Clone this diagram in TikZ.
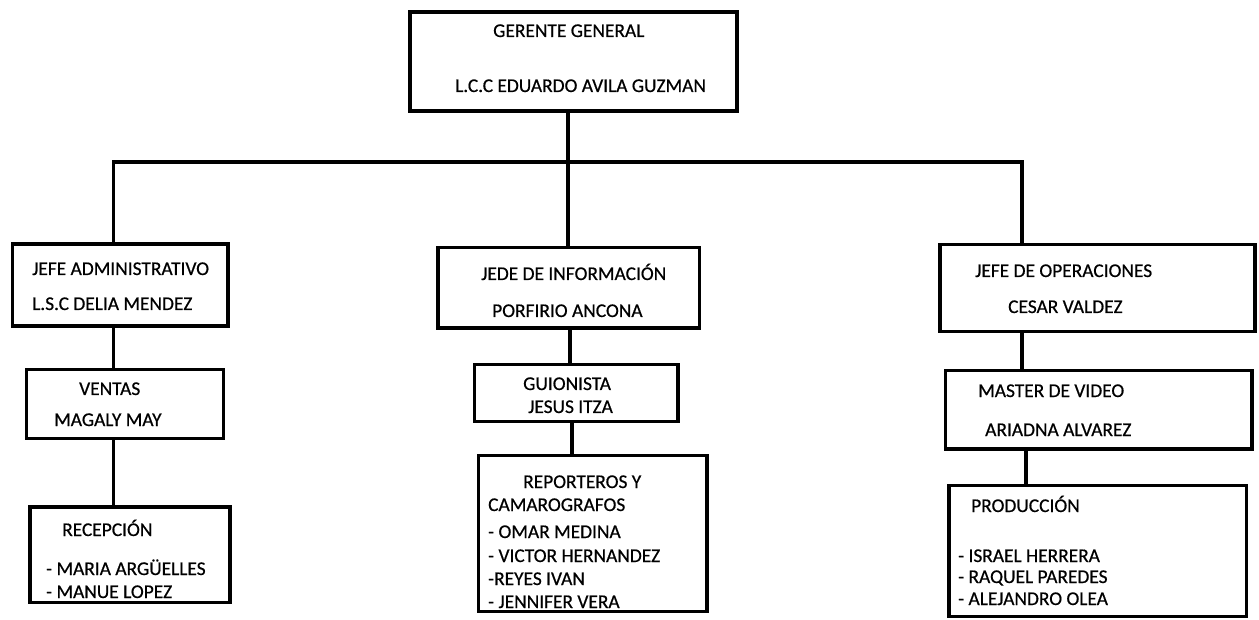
\documentclass[tikz,border=0pt]{standalone}
\usepackage{fontspec}
\setmainfont{Carlito}
\newfontfamily\lblfont{Carlito}[FakeBold=0.6]
\begin{document}
\begin{tikzpicture}[x=1pt,y=-1pt,
  box/.style={draw=black, line width=3.6pt, inner sep=0pt, rectangle},
  conn/.style={draw=black, line width=3.6pt},
  lbl/.style={anchor=base west, inner sep=0pt, font=\lblfont\fontsize{19.4}{22}\selectfont, text=black}]
\useasboundingbox (0,0) rectangle (1259,620);

% ---------- texts ----------
\node[lbl] (t1) at (493,37) {GERENTE GENERAL};
\node[lbl] (t2) at (455,92) {L.C.C EDUARDO AVILA GUZMAN};

\node[lbl] (t3) at (32,275) {JEFE ADMINISTRATIVO};
\node[lbl] (t4) at (32,310) {L.S.C DELIA MENDEZ};
\node[lbl] (t5) at (79,395) {VENTAS};
\node[lbl] (t6) at (54,426) {MAGALY MAY};
\node[lbl] (t7) at (62,536) {RECEPCIÓN};
\node[lbl] (t8) at (46,575) {- MARIA ARGÜELLES};
\node[lbl] (t9) at (46,598) {- MANUE LOPEZ};

\node[lbl] (t10) at (481,280) {JEDE DE INFORMACIÓN};
\node[lbl] (t11) at (492,317) {PORFIRIO ANCONA};
\node[lbl] (t12) at (523,390) {GUIONISTA};
\node[lbl] (t13) at (528,413) {JESUS ITZA};
\node[lbl] (t14) at (523,488) {REPORTEROS Y};
\node[lbl] (t15) at (488,511) {CAMAROGRAFOS};
\node[lbl] (t16) at (488,538) {- OMAR MEDINA};
\node[lbl] (t17) at (488,562) {- VICTOR HERNANDEZ};
\node[lbl] (t18) at (488,585) {-REYES IVAN};
\node[lbl] (t19) at (488,608) {- JENNIFER VERA};

\node[lbl] (t20) at (975,277) {JEFE DE OPERACIONES};
\node[lbl] (t21) at (1008,313) {CESAR VALDEZ};
\node[lbl] (t22) at (978,397) {MASTER DE VIDEO};
\node[lbl] (t23) at (985,436) {ARIADNA ALVAREZ};
\node[lbl] (t24) at (971,512) {PRODUCCIÓN};
\node[lbl] (t25) at (958,562) {- ISRAEL HERRERA};
\node[lbl] (t26) at (958,583) {- RAQUEL PAREDES};
\node[lbl] (t27) at (958,605) {- ALEJANDRO OLEA};

% ---------- boxes ----------
\node[box, minimum width=327pt, minimum height=99pt] (gg) at (573.5,61.5) {};

\node[box, minimum width=215.5pt, minimum height=82pt] (ja) at (120.25,285) {};
\node[box, minimum width=197pt, minimum height=69pt] (ve) at (125,404) {};
\node[box, minimum width=200pt, minimum height=95.5pt] (re) at (130.25,554.75) {};

\node[box, minimum width=261.5pt, minimum height=80.5pt] (ji) at (568.75,287.75) {};
\node[box, minimum width=203.5pt, minimum height=57pt] (gu) at (576.25,393) {};
\node[box, minimum width=228.5pt, minimum height=156pt] (rp) at (592.75,533.5) {};

\node[box, minimum width=315pt, minimum height=87pt] (jo) at (1097.5,288) {};
\node[box, minimum width=306.5pt, minimum height=78.5pt] (mv) at (1098.75,409.75) {};
\node[box, minimum width=297.5pt, minimum height=131pt] (pr) at (1097.75,551) {};

% ---------- connectors ----------
\coordinate (bl) at (113.3,162);
\coordinate (bm) at (567.7,162);
\coordinate (br) at (1022,162);
\coordinate (xl) at (113.3,0);
\coordinate (xm1) at (570,0);
\coordinate (xm2) at (571.7,0);
\coordinate (xr1) at (1021.7,0);
\coordinate (xr2) at (1026,0);

\draw[conn, line join=miter] (ja.north -| bl) -- (bl) -- (br) -- (jo.north -| br);
\draw[conn] (gg.south -| bm) -- (ji.north -| bm);

\draw[conn] (ja.south -| xl) -- (ve.north -| xl);
\draw[conn] (ve.south -| xl) -- (re.north -| xl);

\draw[conn] (ji.south -| xm1) -- (gu.north -| xm1);
\draw[conn] (gu.south -| xm2) -- (rp.north -| xm2);

\draw[conn] (jo.south -| xr1) -- (mv.north -| xr1);
\draw[conn] (mv.south -| xr2) -- (pr.north -| xr2);
\end{tikzpicture}
\end{document}
